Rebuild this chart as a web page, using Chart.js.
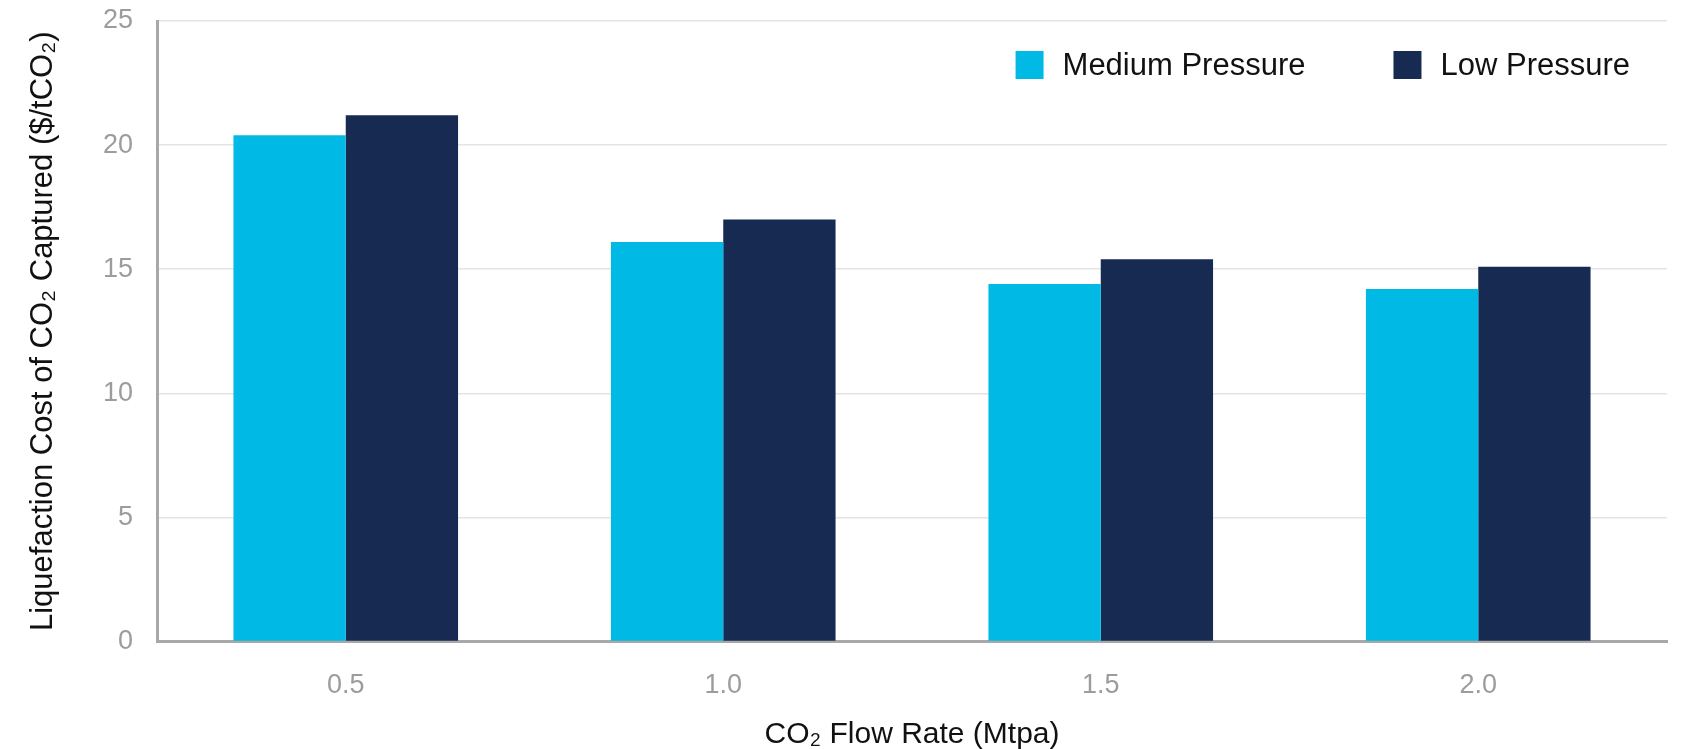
<!DOCTYPE html>
<html>
<head>
<meta charset="utf-8">
<title>CO₂ liquefaction cost by flow rate</title>
<script src="https://cdn.jsdelivr.net/npm/chart.js@4"></script>
<style>
  html, body { margin: 0; padding: 0; background: #ffffff; }
  #wrap { width: 1683px; height: 749px; }
  canvas { display: block; }
</style>
</head>
<body>
<div id="wrap"><canvas id="chart" width="1683" height="749"></canvas></div>
<script>
// Flow rate categories (Mtpa)
const flowRates = ['0.5', '1.0', '1.5', '2.0'];
// Liquefaction cost, $/tCO2
const mediumPressure = [20.4, 16.1, 14.4, 14.2];
const lowPressure = [21.2, 17.0, 15.4, 15.1];
// Value axis ticks
const yTicks = [0, 5, 10, 15, 20, 25];

const seriesNames = ['Medium Pressure', 'Low Pressure'];
const seriesColors = ['#00b9e4', '#172a52'];

const FONT = "'Liberation Sans', Arial, sans-serif";

// Legend drawn inside the plot area, top-right
const innerLegend = {
  id: 'innerLegend',
  afterDraw(chart) {
    const ctx = chart.ctx;
    const area = chart.chartArea;
    const box = 28, gapText = 19, gapItem = 88;
    ctx.save();
    ctx.font = '31px ' + FONT;
    const items = chart.data.datasets.map(ds => ({
      label: ds.label, color: ds.backgroundColor, w: ctx.measureText(ds.label).width
    }));
    let total = 0;
    items.forEach((it, i) => { total += box + gapText + it.w + (i ? gapItem : 0); });
    let x = area.right - 37 - total;
    const cy = area.top + 44;
    items.forEach(it => {
      ctx.fillStyle = it.color;
      ctx.fillRect(x, cy - box / 2, box, box);
      ctx.fillStyle = '#111111';
      ctx.textAlign = 'left';
      ctx.textBaseline = 'middle';
      ctx.fillText(it.label, x + box + gapText, cy + 1);
      x += box + gapText + it.w + gapItem;
    });
    ctx.restore();
  }
};

new Chart(document.getElementById('chart'), {
  type: 'bar',
  data: {
    labels: flowRates,
    datasets: [
      { label: seriesNames[0], data: mediumPressure, backgroundColor: seriesColors[0] },
      { label: seriesNames[1], data: lowPressure, backgroundColor: seriesColors[1] }
    ]
  },
  options: {
    responsive: false,
    devicePixelRatio: 1,
    animation: false,
    layout: { padding: { top: 21, right: 16, left: 0, bottom: 0 } },
    datasets: { bar: { categoryPercentage: 0.595, barPercentage: 1.0, borderWidth: 0 } },
    plugins: {
      legend: { display: false },
      tooltip: { enabled: false }
    },
    scales: {
      x: {
        afterFit(s) { s.height = 107.5; s.paddingLeft = 0; s.paddingRight = 0; },
        grid: { display: false, drawTicks: false },
        border: { display: true, color: '#a8a8a8', width: 3 },
        ticks: { color: '#9c9c9c', padding: 28, font: { family: FONT, size: 27 } },
        title: {
          display: true,
          text: 'CO₂ Flow Rate (Mtpa)',
          color: '#111111',
          font: { family: FONT, size: 30, lineHeight: 1.0 },
          padding: { top: 0, bottom: -1 }
        }
      },
      y: {
        min: 0,
        max: 25,
        afterFit(s) { s.width = 157; s.paddingTop = 0; s.paddingBottom = 0; },
        afterBuildTicks(s) { s.ticks = yTicks.map(v => ({ value: v })); },
        grid: { color: '#e4e4e4', lineWidth: 1.5, drawTicks: false },
        border: { display: true, color: '#a8a8a8', width: 3 },
        ticks: { color: '#9c9c9c', padding: 24, font: { family: FONT, size: 27 } },
        title: {
          display: true,
          text: 'Liquefaction Cost of CO₂ Captured ($/tCO₂)',
          color: '#111111',
          font: { family: FONT, size: 31, lineHeight: 1.2 },
          padding: { top: 25, bottom: 0 }
        }
      }
    }
  },
  plugins: [innerLegend]
});
</script>
</body>
</html>
